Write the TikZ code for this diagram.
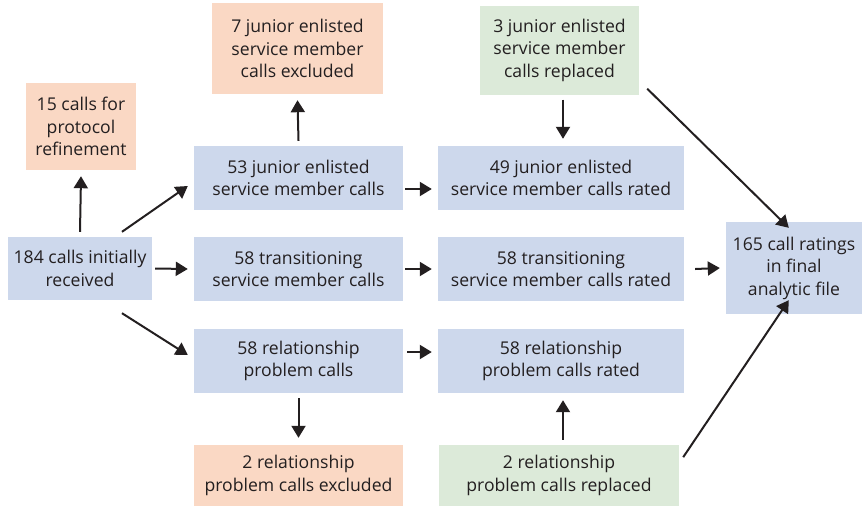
\documentclass[tikz,border=0pt]{standalone}
\usepackage{fontspec}
\setmainfont{Open Sans}
\usetikzlibrary{arrows.meta,calc}
\definecolor{bluebox}{HTML}{CDD8EC}
\definecolor{orangebox}{HTML}{FAD8C4}
\definecolor{greenbox}{HTML}{DCEAD9}
\definecolor{ink}{HTML}{231F20}
\tikzset{
  box/.style={inner sep=0pt, align=center, text=ink,
    font=\fontsize{17.6}{22.5}\selectfont},
  bluestyle/.style={box, fill=bluebox},
  orangestyle/.style={box, fill=orangebox},
  greenstyle/.style={box, fill=greenbox},
  arr/.style={draw=ink, line width=2pt, -{Triangle[width=14pt,length=12pt]}}
}
\begin{document}
\begin{tikzpicture}[x=1pt,y=1pt]
\useasboundingbox (0,0) rectangle (863,-507);
% nodes
\node[bluestyle, minimum width=144, minimum height=63] (A) at (80,-268.5) {184 calls initially\\received};
\node[orangestyle, minimum width=110, minimum height=87] (B) at (81,-126.5) {15 calls for\\protocol\\refinement};
\node[bluestyle, minimum width=209, minimum height=64] (C) at (298.5,-178) {53 junior enlisted\\service member calls};
\node[orangestyle, minimum width=171, minimum height=91] (D) at (297.5,-48.5) {7 junior enlisted\\service member\\calls excluded};
\node[bluestyle, minimum width=209, minimum height=64] (E) at (298.5,-269) {58 transitioning\\service member calls};
\node[bluestyle, minimum width=209, minimum height=64] (F) at (298.5,-361) {58 relationship\\problem calls};
\node[orangestyle, minimum width=209, minimum height=61] (G) at (298.5,-475.5) {2 relationship\\problem calls excluded};
\node[bluestyle, minimum width=246, minimum height=64] (H) at (561,-178) {49 junior enlisted\\service member calls rated};
\node[greenstyle, minimum width=159, minimum height=89] (I) at (559.5,-50) {3 junior enlisted\\service member\\calls replaced};
\node[bluestyle, minimum width=246, minimum height=64] (J) at (561,-269) {58 transitioning\\service member calls rated};
\node[bluestyle, minimum width=246, minimum height=64] (K) at (561,-361) {58 relationship\\problem calls rated};
\node[greenstyle, minimum width=240, minimum height=61] (L) at (559,-475.5) {2 relationship\\problem calls replaced};
\node[bluestyle, minimum width=136, minimum height=92] (M) at (794,-268) {165 call ratings\\in final\\analytic file};
% connectors
\draw[arr] ([yshift=5]A.north) -- ([yshift=-6]B.south);
\draw[arr] ([shift={(42,5)}]A.north) -- ([shift={(-6,-8)}]C.west);
\draw[arr] ([xshift=3]A.east) -- ([xshift=-6]E.west);
\draw[arr] ([shift={(42,-13)}]A.south) -- ([shift={(-6,6)}]F.west);
\draw[arr] ([yshift=5]C.north) -- ([yshift=-6]D.south);
\draw[arr] ([shift={(2,-11)}]C.east) -- ([shift={(-6,-11)}]H.west);
\draw[arr] ([xshift=2]E.east) -- ([xshift=-6]J.west);
\draw[arr] ([shift={(4,9)}]F.east) -- ([shift={(-6,9)}]K.west);
\draw[arr] ([yshift=-5]F.south) -- ([yshift=7]G.north);
\draw[arr] ([shift={(3.5,-5)}]I.south) -- ([shift={(2,7)}]H.north);
\draw[arr] ([shift={(4,5)}]L.north) -- ([shift={(2,-7)}]K.south);
\draw[arr] ([shift={(8,6)}]I.south east) -- ([shift={(63,-6)}]M.north west);
\draw[arr] ([shift={(4,49)}]L.south east) -- ([shift={(63,14)}]M.south west);
\draw[arr] ([xshift=11]J.east) -- ([xshift=-6]M.west);
\end{tikzpicture}
\end{document}
